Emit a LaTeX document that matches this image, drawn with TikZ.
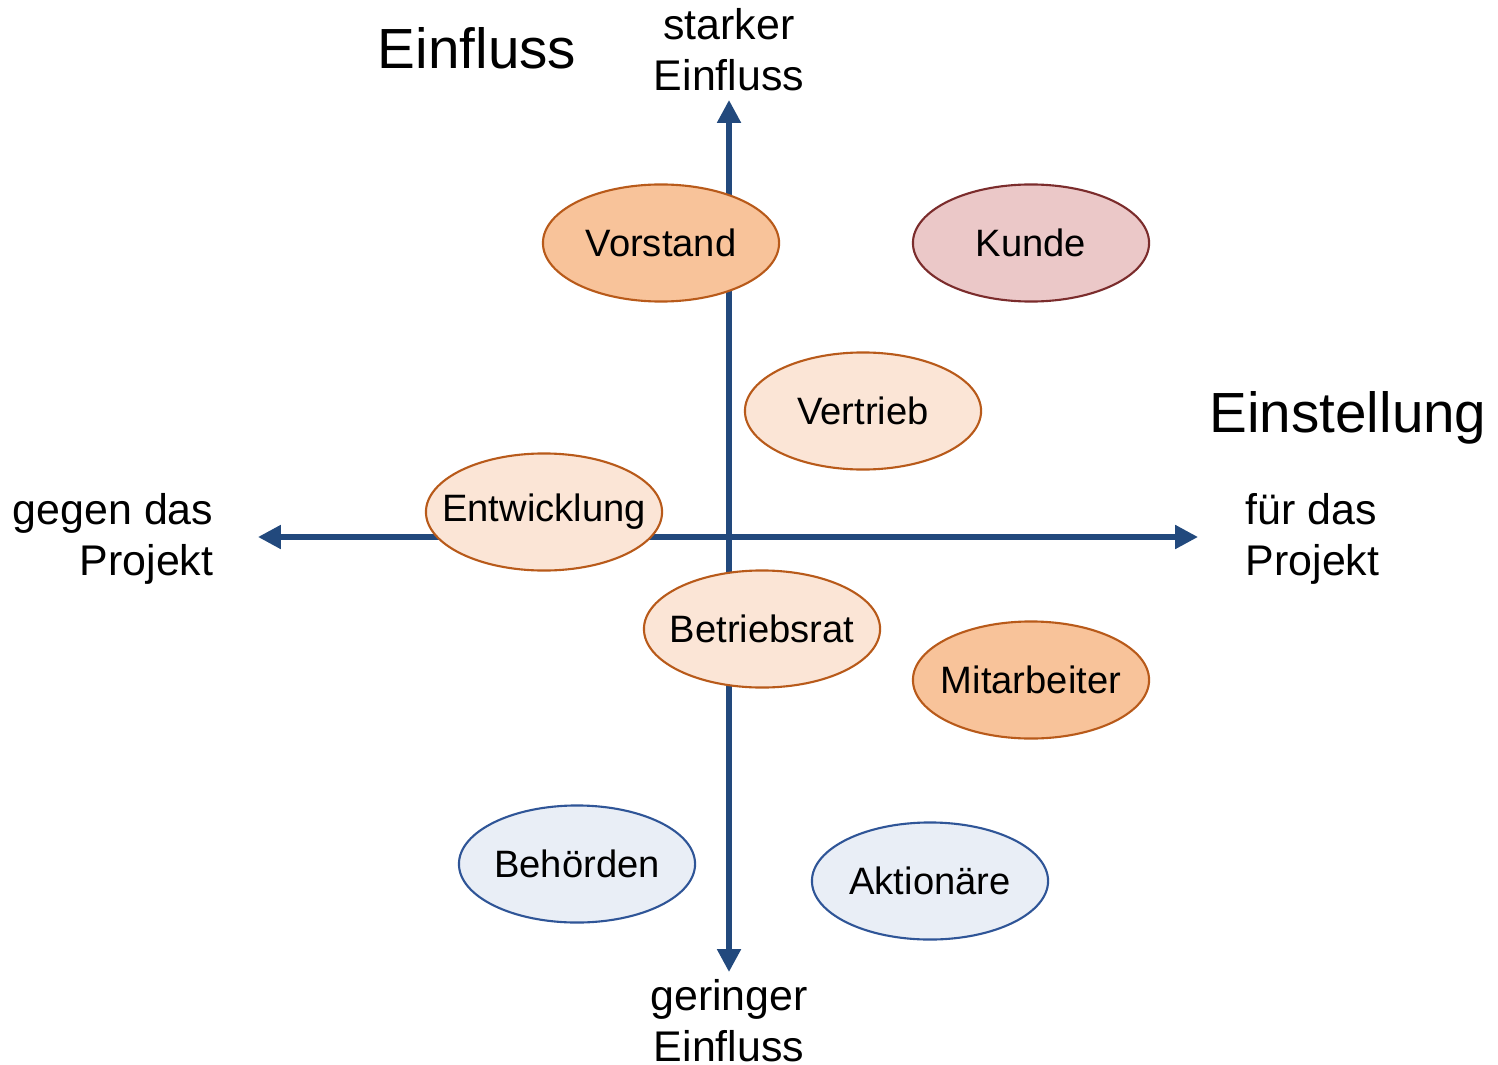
\documentclass[tikz,border=0pt]{standalone}
\usepackage{fontspec}
\setmainfont{Liberation Sans}
\usetikzlibrary{arrows.meta,shapes.geometric}
\definecolor{achse}{HTML}{22497D}
\definecolor{orangevoll}{HTML}{F8C39A}
\definecolor{orangehell}{HTML}{FBE5D6}
\definecolor{orangerand}{HTML}{B85A1A}
\definecolor{rosa}{HTML}{EBC8C8}
\definecolor{rosarand}{HTML}{7B2C2C}
\definecolor{blauhell}{HTML}{E9EEF6}
\definecolor{blaurand}{HTML}{2F5597}
\begin{document}
\begin{tikzpicture}[x=0.01cm,y=-0.01cm,line join=round,
  font=\fontsize{10.85}{14.5}\selectfont,
  achse/.style={draw=achse,line width=1.5pt,{Triangle[length=6.5pt,width=6.5pt]}-{Triangle[length=6.5pt,width=6.5pt]}},
  gruppe/.style={ellipse,line width=0.6pt,minimum width=2.36cm,minimum height=1.17cm,inner xsep=-6mm,inner ysep=0pt},
  stark/.style={gruppe,fill=orangevoll,draw=orangerand},
  mittel/.style={gruppe,fill=orangehell,draw=orangerand},
  kunde/.style={gruppe,fill=rosa,draw=rosarand},
  schwach/.style={gruppe,fill=blauhell,draw=blaurand},
  pol/.style={font=\fontsize{12.2}{14.5}\selectfont},
  titel/.style={font=\fontsize{16.1}{19}\selectfont}]
  \useasboundingbox (0,0) rectangle (1498,1064);
  % Achsen
  \coordinate (oben) at (729,100);
  \coordinate (unten) at (729,972);
  \coordinate (links) at (258,537);
  \coordinate (rechts) at (1198,537);
  \draw[achse] (links) -- (rechts);
  \draw[achse] (unten) -- (oben);
  % Beschriftung
  \node[titel] (einfluss) at (477,48) {Einfluss};
  \node[titel] (einstellung) at (1348,418) {Einstellung};
  \node[pol,align=center] (stark) at (729,50) {starker\\Einfluss};
  \node[pol,align=center] (gering) at (729,1021) {geringer\\Einfluss};
  \node[pol,align=right,anchor=east,inner sep=0pt] (gegen) at (214,539) {gegen das\\Projekt};
  \node[pol,align=left,anchor=west,inner sep=0pt] (fuer) at (1245,539) {für das\\Projekt};
  % Interessengruppen
  \node[stark] (vorstand) at (661,243) {Vorstand};
  \node[kunde] (kunde) at (1031,243) {Kunde};
  \node[mittel] (vertrieb) at (863,411) {Vertrieb};
  \node[mittel] (entwicklung) at (544,512) {Entwicklung};
  \node[mittel] (betriebsrat) at (762,629) {Betriebsrat};
  \node[stark] (mitarbeiter) at (1031,680) {Mitarbeiter};
  \node[schwach] (behoerden) at (577,864) {Behörden};
  \node[schwach] (aktionaere) at (930,881) {Aktionäre};
\end{tikzpicture}
\end{document}
